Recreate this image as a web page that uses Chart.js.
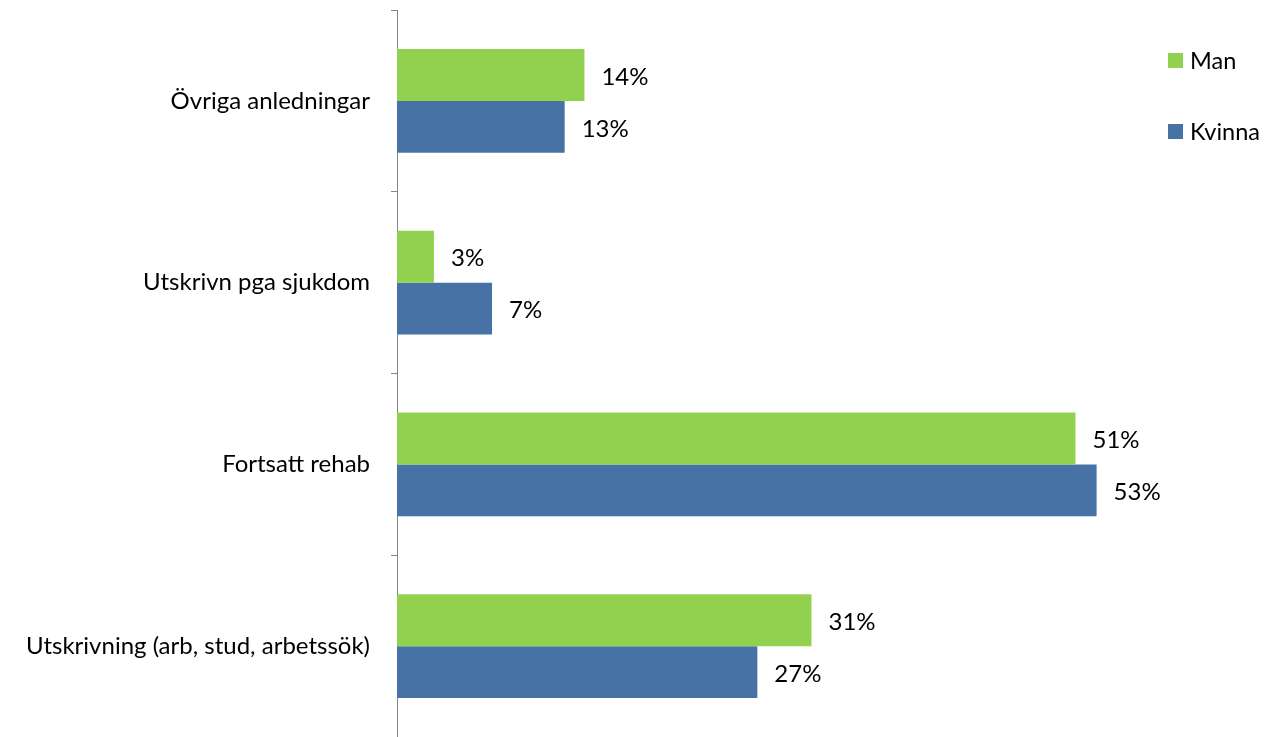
<!DOCTYPE html>
<html>
<head>
<meta charset="utf-8">
<script src="https://cdn.jsdelivr.net/npm/chart.js@4"></script>
<style>
  html, body { margin: 0; padding: 0; background: #fff; }
  #wrap { position: relative; width: 1266px; height: 737px; overflow: hidden; }
  canvas { display: block; }
  .leg { position: absolute; font-family: Lato, "Liberation Sans", sans-serif; font-size: 23.5px; line-height: 28px; color: #000; display: flex; align-items: center; }
  .leg span.box { display: inline-block; width: 15px; height: 15px; margin-right: 7px; }
</style>
</head>
<body>
<div id="wrap">
  <canvas id="c" width="1266" height="737"></canvas>
  <div class="leg" style="left:1168px; top:46px;"><span class="box" style="background:#92D050"></span>Man</div>
  <div class="leg" style="left:1168px; top:117px;"><span class="box" style="background:#4672A6"></span>Kvinna</div>
</div>
<script>
const categories = ["Övriga anledningar", "Utskrivn pga sjukdom", "Fortsatt rehab", "Utskrivning (arb, stud, arbetssök)"];
const seriesNames = ["Man", "Kvinna"];
const manValues = [14.2, 2.8, 51.4, 31.4];
const kvinnaValues = [12.7, 7.2, 53.0, 27.3];
const xMax = 60;

const valueLabels = {
  id: 'valueLabels',
  afterDatasetsDraw(chart) {
    const ctx = chart.ctx;
    ctx.save();
    ctx.font = '24px Lato, "Liberation Sans", sans-serif';
    ctx.fillStyle = '#000';
    ctx.textAlign = 'left';
    ctx.textBaseline = 'middle';
    chart.data.datasets.forEach((ds, i) => {
      const meta = chart.getDatasetMeta(i);
      meta.data.forEach((bar, j) => {
        ctx.fillText(Math.round(ds.data[j]) + '%', bar.x + 17, bar.y + 2);
      });
    });
    ctx.restore();
  }
};

new Chart(document.getElementById('c'), {
  type: 'bar',
  data: {
    labels: categories,
    datasets: [
      { label: seriesNames[0], data: manValues, backgroundColor: '#92D050', borderWidth: 0 },
      { label: seriesNames[1], data: kvinnaValues, backgroundColor: '#4672A6', borderWidth: 0 }
    ]
  },
  options: {
    indexAxis: 'y',
    responsive: false,
    animation: false,
    layout: { padding: { left: 0, top: 10, right: 77, bottom: 0 } },
    datasets: { bar: { categoryPercentage: 0.572, barPercentage: 1.0 } },
    plugins: {
      legend: { display: false },
      tooltip: { enabled: false }
    },
    scales: {
      x: { display: false, min: 0, max: xMax },
      y: {
        afterFit(s) { s.width = 397; s.paddingTop = 0; s.paddingBottom = 0; },
        border: { display: true, color: '#868686', width: 1 },
        grid: { offset: true, drawOnChartArea: false, drawTicks: true, tickLength: 6, color: '#868686' },
        ticks: {
          color: '#000',
          padding: 21,
          font: { family: 'Lato, "Liberation Sans", sans-serif', size: 24 }
        }
      }
    }
  },
  plugins: [valueLabels]
});
</script>
</body>
</html>
